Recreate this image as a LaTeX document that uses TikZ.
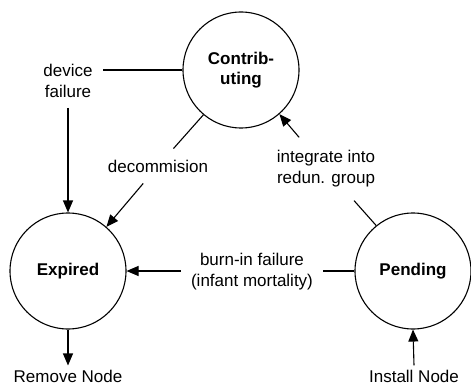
\documentclass[tikz,border=0pt]{standalone}
\usepackage{fontspec}
\setmainfont{Liberation Sans}
\usetikzlibrary{arrows.meta}
\begin{document}
\begin{tikzpicture}[x=1pt,y=-1pt,
  state/.style={draw,circle,minimum size=116pt,inner sep=0pt,line width=1.1pt,font=\fontsize{17}{20}\selectfont\bfseries,align=center},
  lbl/.style={align=center,font=\fontsize{17}{21}\selectfont,inner sep=10pt},
  endlbl/.style={font=\fontsize{17}{21}\selectfont,inner sep=4pt,text depth=0pt},
  conn/.style={line width=1.1pt},
  arr/.style={line width=1.1pt,-{Triangle[length=12pt,width=10pt]}}]
\useasboundingbox (0,0) rectangle (471,385);
\node[state] (C) at (241,70) {Contrib-\\uting};
\node[state] (E) at (68,271) {Expired};
\node[state] (P) at (413,271) {Pending};
\node[lbl] (df) at (68,81) {device\\failure};
\node[lbl,inner ysep=11pt,inner xsep=3pt] (dc) at (158,166) {decommision};
\node[lbl,inner ysep=13pt,inner xsep=3pt] (ig) at (326,169) {integrate into\\redun. group};
\node[lbl,inner ysep=3pt] (bi) at (252,272) {burn-in failure\\(infant mortality)};
\node[endlbl,anchor=base] (rm) at (68,382) {Remove Node};
\node[endlbl,anchor=base] (in) at (414,382) {Install Node};
\draw[conn] (C.west) -- (C.west -| df.east);
\draw[arr] (df.south) -- (E.north);
\draw[conn] (C.230) -- (dc);
\draw[arr] (dc) -- (E.49);
\draw[conn] (P.129) -- (ig);
\draw[arr] (ig) -- (C.311);
\draw[conn] (P.west) -- (bi.east |- P.west);
\draw[arr] (bi.west |- E.east) -- (E.east);
\draw[arr] (E.south) -- (rm.north);
\draw[arr] (in.north) -- (P.south);
\end{tikzpicture}
\end{document}
